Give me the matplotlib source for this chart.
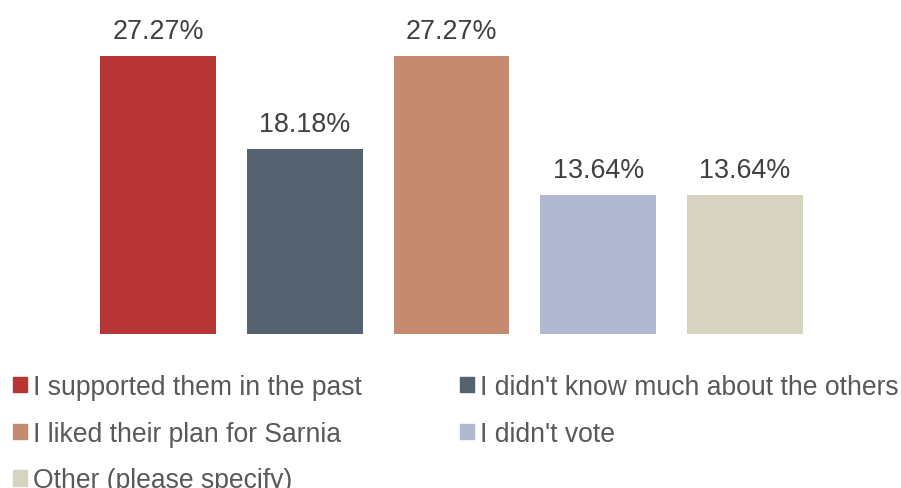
import matplotlib.pyplot as plt
from matplotlib.patches import Patch

plt.rcParams['font.family'] = ['Liberation Sans', 'DejaVu Sans']

categories = ["I supported them in the past",
              "I didn't know much about the others",
              "I liked their plan for Sarnia",
              "I didn't vote",
              "Other (please specify)"]
values = [27.27, 18.18, 27.27, 13.64, 13.64]
colors = ['#b83535', '#566270', '#c48b70', '#b3b8d1', '#d6d4c0']

fig = plt.figure(figsize=(9.01, 4.89), dpi=100)
ax = fig.add_axes([84.6 / 901, (489 - 335) / 489, 733.8 / 901, 326 / 489])

x = list(range(len(values)))
bars = ax.bar(x, values, width=0.79, color=colors)
for xi, v in zip(x, values):
    ax.text(xi, v + 1.2, '%.2f%%' % v, ha='center', va='bottom',
            fontsize=19.4, color='#404040')

ax.set_xlim(-0.5, 4.5)
ax.set_ylim(0, 32)
ax.axis('off')

# legend fills by column, so reorder to get row-wise order
order = [0, 2, 4, 1, 3]
handles = [Patch(color=colors[i]) for i in order]
labels = [categories[i] for i in order]
fig.legend(handles, labels, ncol=2, loc='upper left',
           bbox_to_anchor=(13 / 901, 1 - 375 / 489), frameon=False,
           fontsize=19.1, labelcolor='#595959',
           handlelength=0.52, handleheight=0.52, handletextpad=0.23,
           columnspacing=3.7, labelspacing=0.78, borderpad=0, borderaxespad=0)

fig.savefig('out.png', dpi=100)
